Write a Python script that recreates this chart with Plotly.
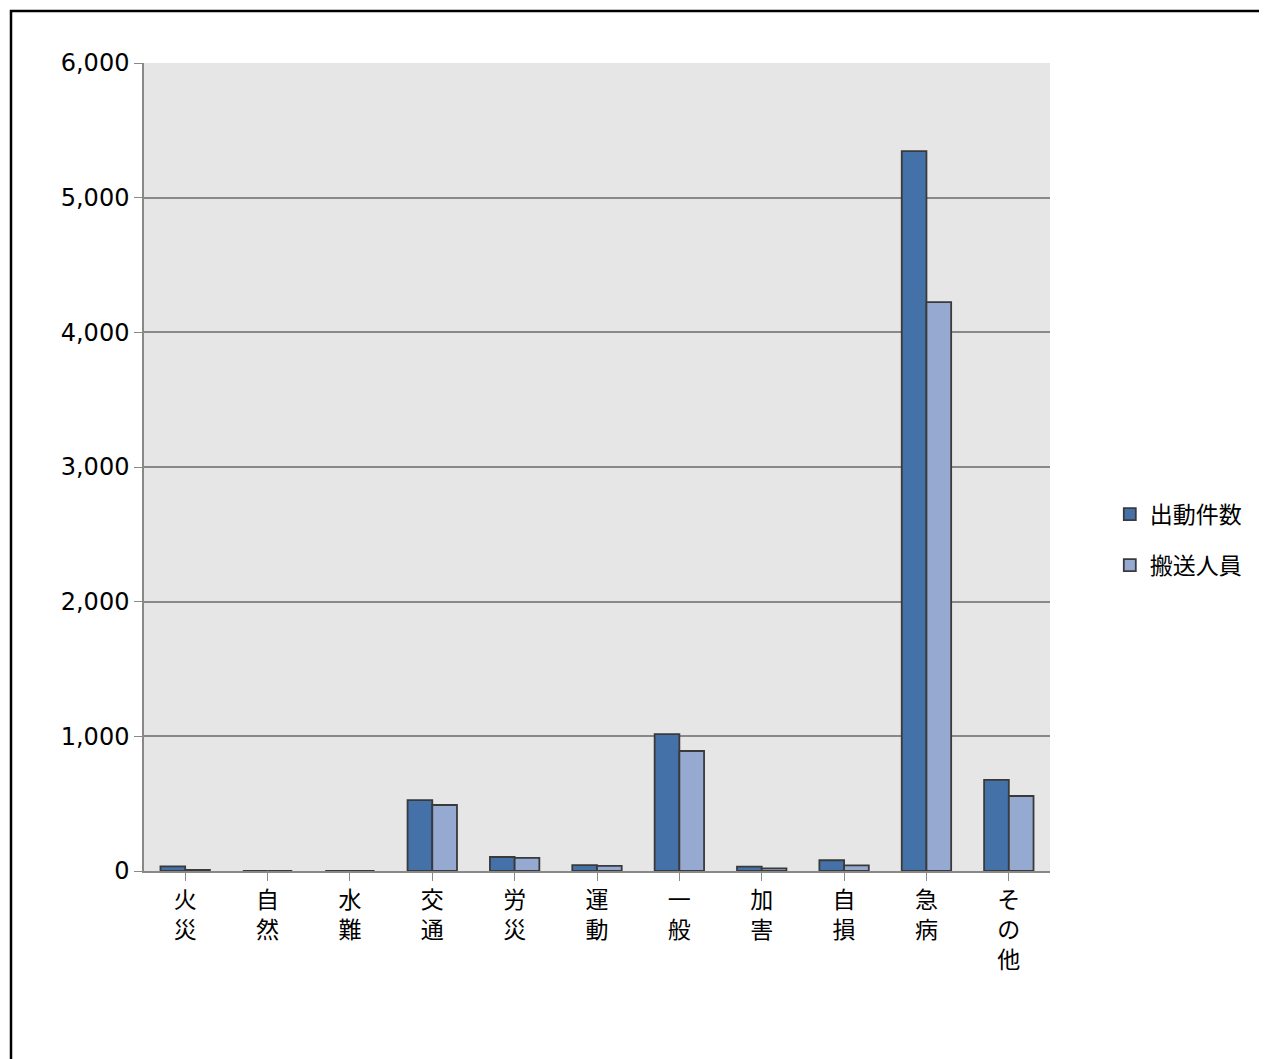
import plotly.graph_objects as go

categories = ["火<br>災", "自<br>然", "水<br>難", "交<br>通", "労<br>災", "運<br>動",
              "一<br>般", "加<br>害", "自<br>損", "急<br>病", "そ<br>の<br>他"]
dispatches = [35, 0, 0, 527, 104, 44, 1017, 33, 80, 5345, 676]
transported = [8, 0, 0, 490, 97, 38, 891, 20, 42, 4224, 557]
y_ticks = [0, 1000, 2000, 3000, 4000, 5000, 6000]

font = "Noto Sans CJK JP, sans-serif"
outline = dict(color="#3A3A3A", width=1.8)

fig = go.Figure()
fig.add_trace(go.Bar(x=categories, y=dispatches, name="出動件数", legendgroup="a",
                     marker=dict(color="#4472A8", line=outline)))
fig.add_trace(go.Bar(x=categories, y=transported, name="搬送人員", legendgroup="b",
                     marker=dict(color="#95A9D1", line=outline)))

# outer frame of the chart
fig.add_shape(type="rect", xref="paper", yref="paper",
              x0=(11 - 144) / 906, x1=(1265 - 144) / 906,
              y0=-0.3, y1=(871 - 11) / 808,
              line=dict(color="black", width=2.5))

fig.update_layout(
    width=1259, height=1051,
    margin=dict(l=136, r=217, t=55, b=188),
    paper_bgcolor="white", plot_bgcolor="#E6E6E6",
    bargap=0.4, bargroupgap=0,
    font=dict(family=font, size=22, color="black"),
    showlegend=True,
    legend=dict(x=1.066, y=0.41, yanchor="middle", font=dict(size=23),
                tracegroupgap=18, itemwidth=30),
    xaxis=dict(showline=True, linecolor="#888888", linewidth=1.5,
               ticks="outside", ticklen=8, tickcolor="#888888",
               tickfont=dict(size=23), tickangle=0),
    yaxis=dict(range=[0, 6000], tickvals=y_ticks, tickformat=",",
               showgrid=True, gridcolor="#888888", gridwidth=1.5,
               showline=True, linecolor="#888888", linewidth=1.5,
               ticks="outside", ticklen=8, tickcolor="#888888",
               tickfont=dict(size=24, family="DejaVu Sans"), zeroline=False),
)

fig.write_html("out.html")
